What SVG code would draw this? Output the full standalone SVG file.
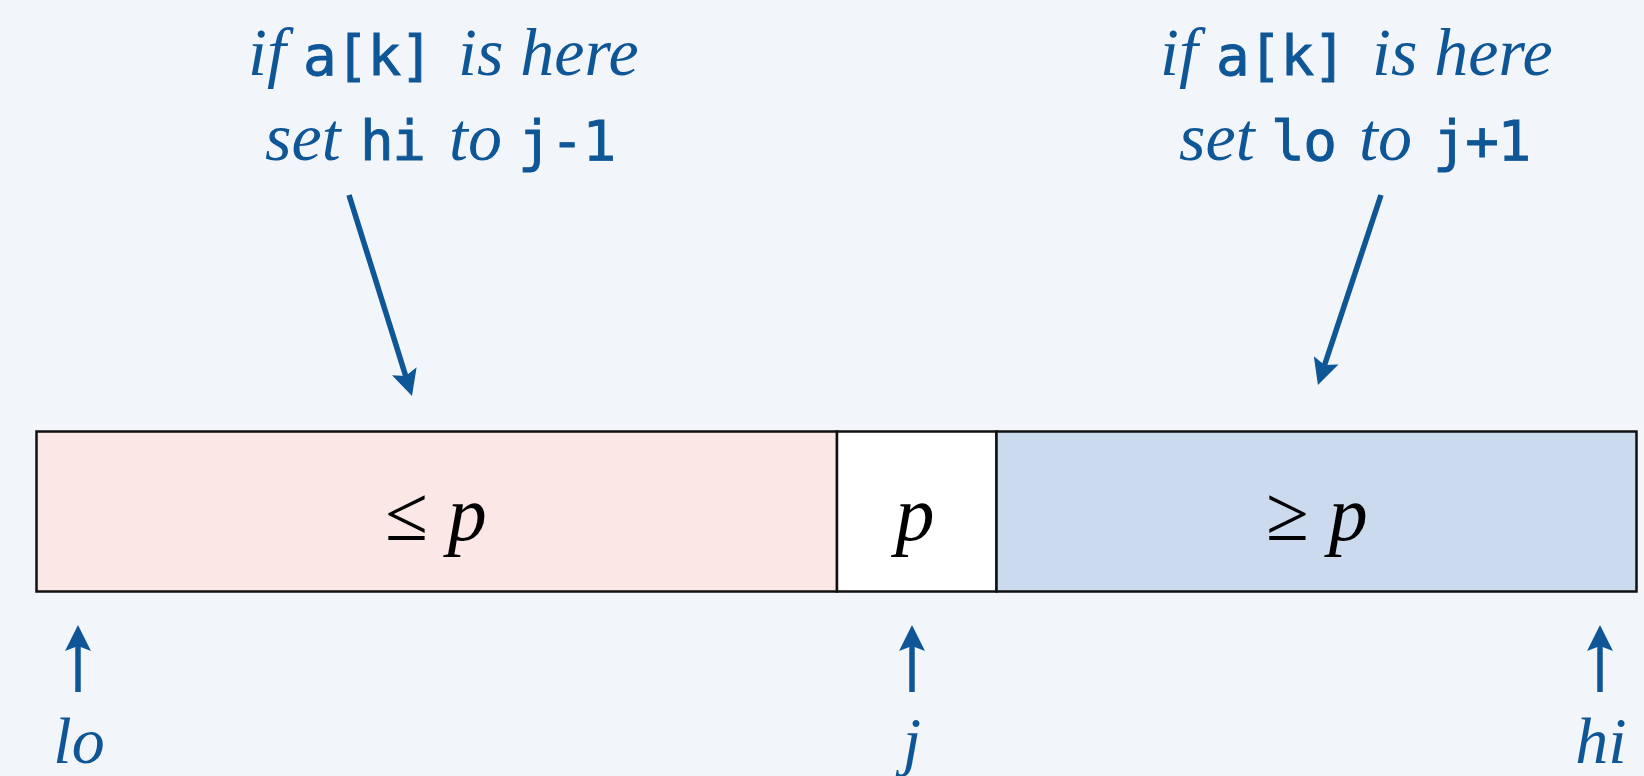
<svg xmlns="http://www.w3.org/2000/svg" width="1644" height="776" viewBox="0 0 1644 776">
<style>
.it{font-family:'Liberation Serif','Times New Roman',serif;font-style:italic;fill:#0f5697;font-size:68px}
.mono{font-family:'DejaVu Sans Mono','Liberation Mono',monospace;fill:#0f5697;stroke:#0f5697;stroke-width:0.9px;font-size:56px;letter-spacing:-1.5px}
.lab{font-family:'Liberation Serif','Times New Roman',serif;font-style:italic;fill:#0f5697;font-size:66px;text-anchor:middle}
.box{stroke:#111;stroke-width:2.5}
.bt{font-family:'Liberation Serif','Times New Roman',serif;font-size:78px;fill:#000;text-anchor:middle}
.arr{stroke:#0f5697;stroke-width:5.5;fill:none;marker-end:url(#ah)}
</style>
<defs>
<marker id="ah" markerUnits="userSpaceOnUse" viewBox="0 0 26 26" markerWidth="26" markerHeight="26" refX="16" refY="13" orient="auto">
<path d="M0,0 L26,13 L0,26 L5,13 Z" fill="#0f5697"/>
</marker>
</defs>
<rect width="1644" height="776" fill="#f2f6fa"/>
<g id="label-left">
<text y="75"><tspan class="it" x="248">if</tspan><tspan class="mono" x="303">a[k]</tspan><tspan class="it" x="458">is here</tspan></text>
<text y="160"><tspan class="it" x="265">set</tspan><tspan class="mono" x="360">hi</tspan><tspan class="it" x="449">to</tspan><tspan class="mono" x="518">j-1</tspan></text>
</g>
<g id="label-right">
<text y="75"><tspan class="it" x="1160">if</tspan><tspan class="mono" x="1216">a[k]</tspan><tspan class="it" x="1372">is here</tspan></text>
<text y="160"><tspan class="it" x="1179">set</tspan><tspan class="mono" x="1271">lo</tspan><tspan class="it" x="1359">to</tspan><tspan class="mono" x="1433">j+1</tspan></text>
</g>
<g id="cell-left">
<rect class="box" x="36.5" y="431.5" width="800.5" height="160" fill="#fbe7e5"/>
<text class="bt" x="436" y="540">≤ <tspan font-style="italic">p</tspan></text>
</g>
<g id="cell-pivot">
<rect class="box" x="837" y="431.5" width="159.5" height="160" fill="#ffffff"/>
<text class="bt" x="915" y="540" font-style="italic">p</text>
</g>
<g id="cell-right">
<rect class="box" x="996.5" y="431.5" width="640" height="160" fill="#cbdbed"/>
<text class="bt" x="1317" y="540">≥ <tspan font-style="italic">p</tspan></text>
</g>
<g id="index-labels">
<text class="lab" x="79" y="763">lo</text>
<text class="lab" x="912" y="763">j</text>
<text class="lab" x="1601" y="763">hi</text>
</g>
<g id="connectors">
<line class="arr" x1="349" y1="195" x2="409" y2="386.5"/>
<line class="arr" x1="1381" y1="195" x2="1321.1" y2="375.5"/>
<line class="arr" x1="78" y1="692" x2="78" y2="635"/>
<line class="arr" x1="912" y1="692" x2="912" y2="635"/>
<line class="arr" x1="1600" y1="692" x2="1600" y2="635"/>
</g>
</svg>
